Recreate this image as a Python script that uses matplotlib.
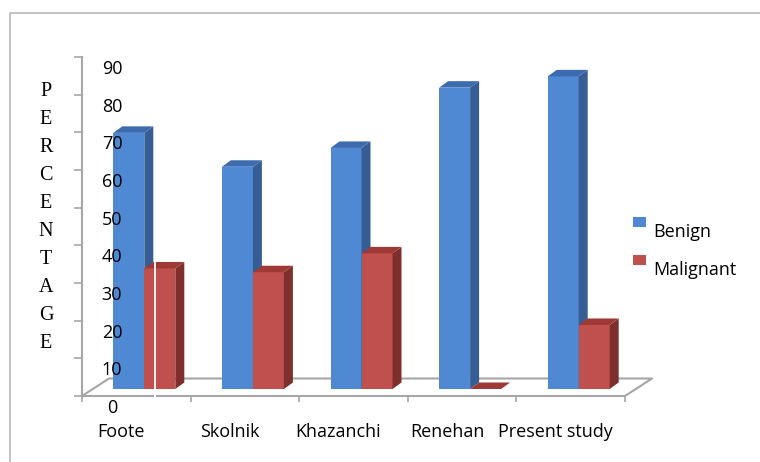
import numpy as np
import matplotlib.pyplot as plt
from matplotlib.patches import Polygon, Rectangle
from matplotlib.lines import Line2D
from matplotlib.transforms import offset_copy

studies = ["Foote", "Skolnik", "Khazanchi", "Renehan", "Present study"]
benign = [68, 59, 64, 80, 83]
malignant = [32, 31, 36, 0, 17]
yticks = list(range(0, 100, 10))

W, H = 760, 462
FONT = "Open Sans"
INK = "#000000"
GRAY = "#A6A6A6"
BLUE = {"front": "#5089D3", "side": "#375E94", "top": "#3D6BAF"}
RED = {"front": "#C0504D", "side": "#7E2F2D", "top": "#9E3936"}

fig = plt.figure(figsize=(W / 100, H / 100), dpi=100)
ax = fig.add_axes([82 / W, 1 - 396 / H, 543 / W, 339 / H])
n = len(studies)
ax.set_xlim(0, n)
ax.set_ylim(0, 90)

# pixel -> data unit helpers for the fake 3d depth
ux = 543 / n
uy = 339 / 90


def dx(p):
    return p / ux


def dy(p):
    return p / uy


w = dx(31)
shift_x, shift_y = dx(8), dy(7)
depth_x, depth_y = dx(9), dy(6.5)
floor_x, floor_y = dx(27), dy(17.5)

# floor outline (front edge is the bottom spine)
ax.plot([0, floor_x, n + floor_x, n], [0, floor_y, floor_y, 0],
        color=GRAY, lw=1.5, clip_on=False, zorder=1)

centers = np.arange(n) + 0.5 + shift_x
for k, (vals, xs, c) in enumerate([(benign, centers - w, BLUE),
                                    (malignant, centers, RED)]):
    z = 3 + k
    ax.bar(xs, vals, width=w, bottom=shift_y, align="edge", color=c["front"],
           linewidth=0, zorder=z, clip_on=False)
    for x, v in zip(xs, vals):
        top = shift_y + v
        side = [(x + w, shift_y), (x + w + depth_x, shift_y + depth_y),
                (x + w + depth_x, top + depth_y), (x + w, top)]
        lid = [(x, top), (x + w, top), (x + w + depth_x, top + depth_y),
               (x + depth_x, top + depth_y)]
        ax.add_patch(Polygon(side, closed=True, fc=c["side"], lw=0, zorder=z, clip_on=False))
        ax.add_patch(Polygon(lid, closed=True, fc=c["top"], lw=0, zorder=z, clip_on=False))

for s in ["top", "right"]:
    ax.spines[s].set_visible(False)
for s in ["left", "bottom"]:
    ax.spines[s].set_color(GRAY)
    ax.spines[s].set_linewidth(1.5)
ax.set_yticks(yticks)
ax.set_xticks(range(n + 1))
ax.tick_params(axis="y", direction="out", length=5.8, width=1.2, color=GRAY, labelleft=False)
ax.tick_params(axis="x", direction="out", length=4.3, width=1.2, color=GRAY, labelbottom=False)
ax.patch.set_visible(False)

ylab_tr = offset_copy(ax.transData, fig, x=30, y=-17, units="dots")
for v in yticks:
    ax.text(0, v, str(v), transform=ylab_tr, ha="center", va="baseline",
            fontsize=13, family=FONT, color=INK)

xlab_tr = offset_copy(ax.transData, fig, x=-15, y=-41, units="dots")
for i, name in enumerate(studies):
    ax.text(i + 0.5, 0, name, transform=xlab_tr, ha="center", va="baseline",
            fontsize=13, family=FONT, color=INK)

# stacked axis title
for k, ch in enumerate("PERCENTAGE"):
    fig.text(46 / W, 1 - (92 + 28 * k) / H, ch, ha="center", va="center",
             fontsize=14.5, family="Liberation Serif", color=INK)

# legend
for y0, name, c in [(217, "Benign", BLUE), (255, "Malignant", RED)]:
    fig.add_artist(Rectangle((633 / W, 1 - (y0 + 10) / H), 13 / W, 10 / H,
                             transform=fig.transFigure, fc=c["front"], lw=0))
    fig.text(653 / W, 1 - (y0 + 20) / H, name, ha="left", va="baseline",
             fontsize=13, family=FONT, color=INK)

# thin white seam over the first red bar
fig.add_artist(Line2D([155 / W, 155 / W], [1 - 262 / H, 1 - 399 / H],
                      color="white", lw=1.3, zorder=10))

# outer frame
fig.add_artist(Line2D([9.5 / W, 9.5 / W, 1], [0, 1 - 13 / H, 1 - 13 / H],
                      color="#BDBDBD", lw=1.3))

fig.savefig("out.png", dpi=100)
